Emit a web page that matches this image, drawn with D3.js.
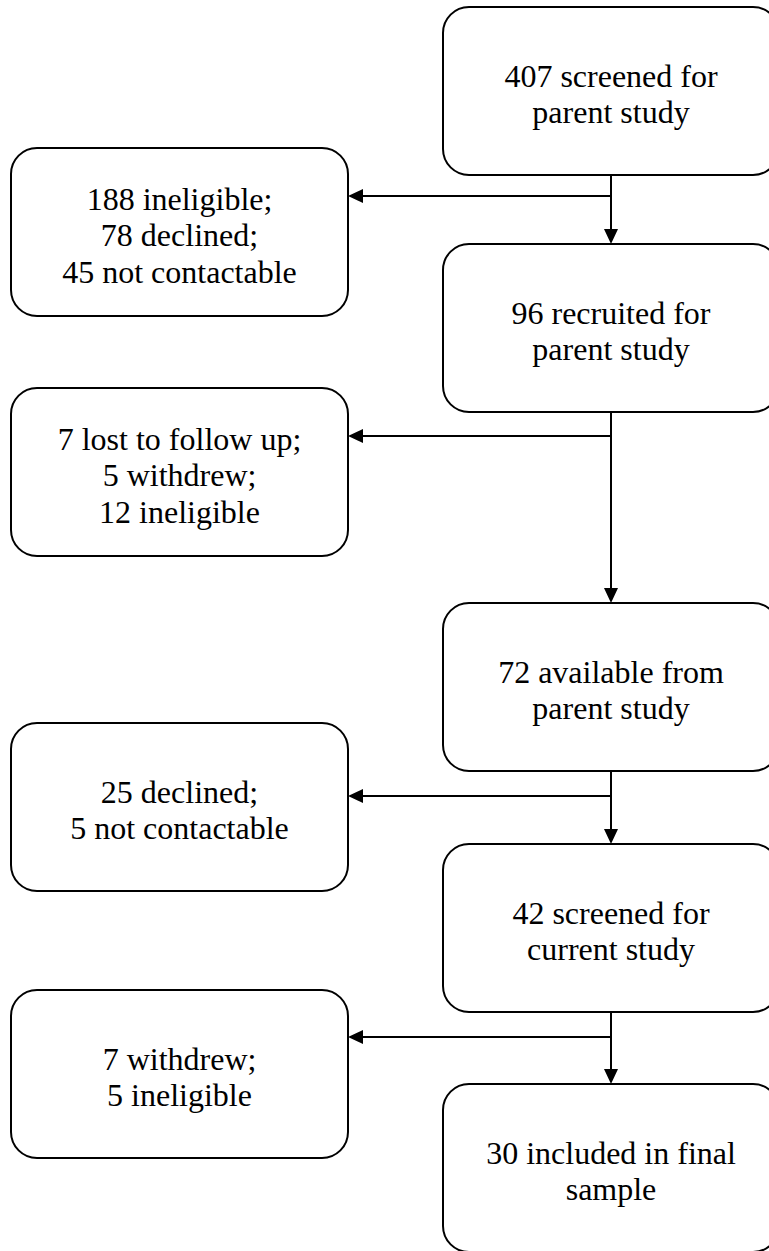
<!DOCTYPE html>
<html>
<head>
<meta charset="utf-8">
<script src="https://cdn.jsdelivr.net/npm/d3@7"></script>
<style>
  html, body { margin: 0; padding: 0; background: #fff; }
  svg { display: block; }
</style>
</head>
<body>
<div id="chart"></div>
<script>
// ---- Data ----
const mainSteps = [
  ["407 screened for", "parent study"],
  ["96 recruited for", "parent study"],
  ["72 available from", "parent study"],
  ["42 screened for", "current study"],
  ["30 included in final", "sample"]
];
const exclusions = [
  ["188 ineligible;", "78 declined;", "45 not contactable"],
  ["7 lost to follow up;", "5 withdrew;", "12 ineligible"],
  ["25 declined;", "5 not contactable"],
  ["7 withdrew;", "5 ineligible"]
];

// ---- Layout ----
const W = 769, H = 1251;
const mainTop = [7, 244, 603, 844, 1084];
const sideTop = [148, 388, 723, 990];
const branchY = [196, 436, 796, 1037];
const mainX = 443, mainW = 336, boxH = 168;
const sideX = 11, sideW = 337;
const rx = 26;
const fontSize = 32, lineH = 36.5, baseOff = 14;
const ahL = 15, ahW = 7;
const FONT = '"Liberation Serif"';

const y = d3.scaleLinear().domain([0, H]).range([0, H]);

const svg = d3.select("#chart").append("svg")
  .attr("width", W).attr("height", H)
  .attr("viewBox", `0 0 ${W} ${H}`);

const spineX = mainX + mainW / 2;

// connectors (drawn first)
const conn = svg.append("g").attr("stroke", "#000").attr("stroke-width", 2).attr("fill", "none");
mainSteps.slice(1).forEach((d, i) => {
  conn.append("line")
    .attr("x1", spineX).attr("x2", spineX)
    .attr("y1", y(mainTop[i] + boxH)).attr("y2", y(mainTop[i + 1]) - ahL + 1);
});
exclusions.forEach((d, i) => {
  conn.append("line")
    .attr("x1", spineX).attr("x2", sideX + sideW + ahL - 1)
    .attr("y1", y(branchY[i])).attr("y2", y(branchY[i]));
});

// arrowheads
const heads = svg.append("g").attr("fill", "#000");
mainSteps.slice(1).forEach((d, i) => {
  const ty = y(mainTop[i + 1]);
  heads.append("path").attr("d",
    `M${spineX - ahW},${ty - ahL}L${spineX + ahW},${ty - ahL}L${spineX},${ty}Z`);
});
exclusions.forEach((d, i) => {
  const tx = sideX + sideW, ty = y(branchY[i]);
  heads.append("path").attr("d",
    `M${tx + ahL},${ty - ahW}L${tx + ahL},${ty + ahW}L${tx},${ty}Z`);
});

function drawBox(g, x, top, w, lines) {
  g.append("rect")
    .attr("x", x).attr("y", top).attr("width", w).attr("height", boxH)
    .attr("rx", rx).attr("ry", rx)
    .attr("fill", "#fff").attr("stroke", "#000").attr("stroke-width", 2);
  const cy = top + boxH / 2;
  const n = lines.length;
  lines.forEach((ln, k) => {
    g.append("text")
      .attr("text-anchor", "middle")
      .style("font-family", FONT)
      .style("font-size", fontSize + "px")
      .attr("fill", "#000")
      .attr("x", x + w / 2)
      .attr("y", cy + (k - (n - 1) / 2) * lineH + baseOff)
      .text(ln);
  });
}

const boxes = svg.append("g");
mainSteps.forEach((d, i) => drawBox(boxes, mainX, y(mainTop[i]), mainW, d));
exclusions.forEach((d, i) => drawBox(boxes, sideX, y(sideTop[i]), sideW, d));
</script>
</body>
</html>
